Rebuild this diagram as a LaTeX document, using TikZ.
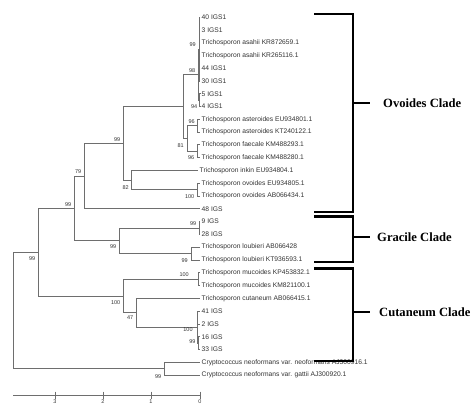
\documentclass[tikz,border=0pt]{standalone}
\usepackage{fontspec}
\setmainfont{Liberation Sans}
\newfontfamily\cladefont{Liberation Serif}
\definecolor{treegray}{HTML}{6E6E6E}
\definecolor{leafgray}{HTML}{333333}
\begin{document}
\begin{tikzpicture}[x=1pt,y=-1pt,
  tree/.style={draw=treegray,line width=0.8pt},
  leaf/.style={anchor=west,inner xsep=1.5pt,inner ysep=0pt,font=\fontsize{6.7}{7}\selectfont,text=leafgray},
  bsa/.style={anchor=south east,inner sep=0pt,font=\fontsize{5.5}{6}\selectfont,text=leafgray},
  bsb/.style={anchor=north east,inner sep=0pt,font=\fontsize{5.5}{6}\selectfont,text=leafgray},
  bsc/.style={inner sep=0pt,font=\fontsize{5.5}{6}\selectfont,text=leafgray},
  bracket/.style={draw=black,line width=2.6pt},
  clade/.style={anchor=west,inner sep=0pt,font=\cladefont\bfseries\fontsize{12.6}{14}\selectfont},
  sblabel/.style={anchor=north,inner sep=0pt,font=\fontsize{5.5}{6}\selectfont,text=leafgray}
]
\useasboundingbox (0,0) rectangle (475,412);
\fill[white] (0,0) rectangle (475,412);

% leaves
\foreach \i/\tx/\t in {
 0/200/{40 IGS1},
 1/200/{3 IGS1},
 2/200/{Trichosporon asahii KR872659.1},
 3/200/{Trichosporon asahii KR265116.1},
 4/200/{44 IGS1},
 5/200/{30 IGS1},
 6/200/{5 IGS1},
 7/200/{4 IGS1},
 8/200/{Trichosporon asteroides EU934801.1},
 9/200/{Trichosporon asteroides KT240122.1},
 10/200/{Trichosporon faecale KM488293.1},
 11/200/{Trichosporon faecale KM488280.1},
 12/198/{Trichosporon inkin EU934804.1},
 13/200/{Trichosporon ovoides EU934805.1},
 14/200/{Trichosporon ovoides AB066434.1},
 15/200/{48 IGS},
 16/200/{9 IGS},
 17/200/{28 IGS},
 18/200/{Trichosporon loubieri AB066428},
 19/200/{Trichosporon loubieri KT936593.1},
 20/200/{Trichosporon mucoides KP453832.1},
 21/200/{Trichosporon mucoides KM821100.1},
 22/200/{Trichosporon cutaneum AB066415.1},
 23/200/{41 IGS},
 24/200/{2 IGS},
 25/200/{16 IGS},
 26/200/{33 IGS},
 27/200/{Cryptococcus neoformans var. neoformans AJ300916.1},
 28/200/{Cryptococcus neoformans var. gattii AJ300920.1}}
 \node[leaf] (L\i) at (\tx,{17+12.79*\i}) {\t};

% internal nodes
\coordinate (N99a) at (199,49.0);
\coordinate (N94) at (199.5,100.1);
\coordinate (N98) at (198,74.6);
\coordinate (Nast) at (197,125.7);
\coordinate (Nfae) at (197,151.3);
\coordinate (N187) at (187,138.5);
\coordinate (N183) at (183,106.6);
\coordinate (Novo) at (197,189.7);
\coordinate (N131) at (131,180.1);
\coordinate (N123) at (123,143.3);
\coordinate (N84) at (84,176.1);
\coordinate (Ngr) at (199,228.0);
\coordinate (Nlou) at (191,253.6);
\coordinate (N119) at (119,240.8);
\coordinate (N74) at (74,208.5);
\coordinate (Nmuc) at (198,279.2);
\coordinate (Nigs99) at (198.5,343.1);
\coordinate (Nigs) at (197,327.2);
\coordinate (N136) at (136,312.8);
\coordinate (N123b) at (123,296.0);
\coordinate (N38) at (38,252.2);
\coordinate (Ncry) at (164,368.7);
\coordinate (Root) at (13,310.5);

% edges
\foreach \c in {0,1,2,3,4,5} \draw[tree] (N99a) |- (L\c.west);
\foreach \c in {6,7} \draw[tree] (N94) |- (L\c.west);
\draw[tree] (N98) |- (N99a);
\draw[tree] (N98) |- (N94);
\foreach \c in {8,9} \draw[tree] (Nast) |- (L\c.west);
\foreach \c in {10,11} \draw[tree] (Nfae) |- (L\c.west);
\draw[tree] (N187) |- (Nast);
\draw[tree] (N187) |- (Nfae);
\draw[tree] (N183) |- (N98);
\draw[tree] (N183) |- (N187);
\foreach \c in {13,14} \draw[tree] (Novo) |- (L\c.west);
\draw[tree] (N131) |- (L12.west);
\draw[tree] (N131) |- (Novo);
\draw[tree] (N123) |- (N183);
\draw[tree] (N123) |- (N131);
\draw[tree] (N84) |- (N123);
\draw[tree] (N84) |- (L15.west);
\foreach \c in {16,17} \draw[tree] (Ngr) |- (L\c.west);
\foreach \c in {18,19} \draw[tree] (Nlou) |- (L\c.west);
\draw[tree] (N119) |- (Ngr);
\draw[tree] (N119) |- (Nlou);
\draw[tree] (N74) |- (N84);
\draw[tree] (N74) |- (N119);
\foreach \c in {20,21} \draw[tree] (Nmuc) |- (L\c.west);
\foreach \c in {25,26} \draw[tree] (Nigs99) |- (L\c.west);
\foreach \c in {23,24} \draw[tree] (Nigs) |- (L\c.west);
\draw[tree] (Nigs) |- (Nigs99);
\draw[tree] (N136) |- (L22.west);
\draw[tree] (N136) |- (Nigs);
\draw[tree] (N123b) |- (Nmuc);
\draw[tree] (N123b) |- (N136);
\draw[tree] (N38) |- (N74);
\draw[tree] (N38) |- (N123b);
\foreach \c in {27,28} \draw[tree] (Ncry) |- (L\c.west);
\draw[tree] (Root) |- (N38);
\draw[tree] (Root) |- (Ncry);

% bootstrap values
\node[bsa] (b1) at ([xshift=-3pt,yshift=2pt]N99a) {99};
\node[bsa] (b2) at ([xshift=-2.5pt,yshift=1.5pt]N98) {98};
\node[bsb] (b3) at ([xshift=-2pt,yshift=-4.5pt]N94) {94};
\node[bsa] (b4) at ([xshift=-2pt,yshift=1.5pt]Nast) {96};
\node[bsb] (b5) at ([xshift=-3pt,yshift=-4.5pt]N187) {81};
\node[bsb] (b6) at ([xshift=-2.5pt,yshift=-4.5pt]Nfae) {96};
\node[bsb] (b7) at ([xshift=-2pt,yshift=-5pt]N131) {82};
\node[bsb] (b8) at ([xshift=-2.5pt,yshift=-5pt]Novo) {100};
\node[bsa] (b9) at ([xshift=-2.5pt,yshift=2pt]N123) {99};
\node[bsa] (b10) at ([xshift=-2.5pt,yshift=2pt]N84) {79};
\node[bsa] (b11) at ([xshift=-2.5pt,yshift=1.5pt]N74) {99};
\node[bsa] (b12) at ([xshift=-2.5pt,yshift=2pt]Ngr) {99};
\node[bsb] (b13) at ([xshift=-3pt,yshift=-5pt]Nlou) {99};
\node[bsb] (b14) at ([xshift=-2.5pt,yshift=-4pt]N119) {99};
\node[bsa] (b15) at ([xshift=-9pt,yshift=2.5pt]Nmuc) {100};
\node[bsc] (b16) at (188,330) {100};
\node[bsc] (b17) at (192.5,341.5) {99};
\node[bsb] (b18) at ([xshift=-2.5pt,yshift=-3pt]N136) {47};
\node[bsb] (b19) at ([xshift=-2.5pt,yshift=-4pt]N123b) {100};
\node[bsb] (b20) at ([xshift=-2.5pt,yshift=-4pt]N38) {99};
\node[bsb] (b21) at ([xshift=-2.5pt,yshift=-5.5pt]Ncry) {99};

% scale bar
\draw[tree] (13,395) -- (200,395);
\foreach \x/\v in {55/3,103/2,151/1,200/0} {
  \draw[tree] (\x,391.5) -- (\x,398.5);
  \node[sblabel] (s\v) at (\x,399.5) {\v};
}

% clade brackets
\draw[bracket] (314,14) -- (353,14) -- (353,212) -- (314,212);
\draw[bracket] (353,103) -- (370,103);
\node[clade] (ovo) at (383,103) {Ovoides Clade};
\draw[bracket] (314,216.5) -- (353,216.5) -- (353,262) -- (314,262);
\draw[bracket] (353,237) -- (370,237);
\node[clade] (gra) at (377,237) {Gracile Clade};
\draw[bracket] (314,268.5) -- (353,268.5) -- (353,361) -- (314,361);
\draw[bracket] (353,312) -- (370,312);
\node[clade] (cut) at (379,312) {Cutaneum Clade};
\end{tikzpicture}
\end{document}
